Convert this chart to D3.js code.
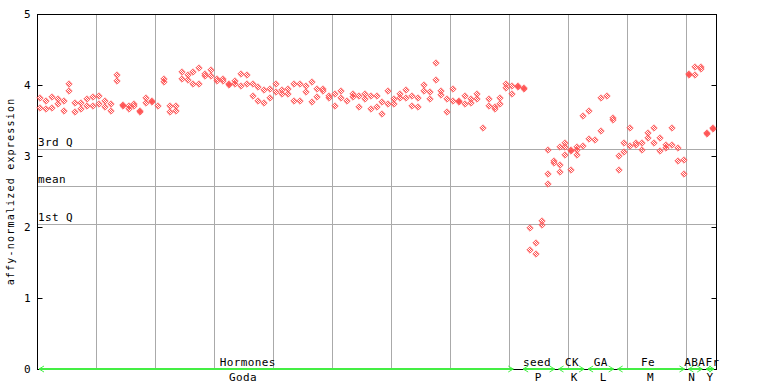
<!DOCTYPE html>
<html>
<head>
<meta charset="utf-8">
<script src="https://cdn.jsdelivr.net/npm/d3@7"></script>
<style>
  body { margin: 0; background: #fff; }
  text { font-family: "DejaVu Sans Mono", monospace; font-size: 11px; letter-spacing: 0.4px; fill: #000; }
</style>
</head>
<body>
<svg id="chart" width="768" height="384"></svg>
<script>
// one entry per sample column, replicate values
const expression = [
  [3.81, 3.67], [3.78, 3.66], [3.83, 3.67], [3.80, 3.73], [3.78, 3.64],
  [4.01, 3.92], [3.75, 3.62], [3.74, 3.66], [3.80, 3.71], [3.83, 3.71],
  [3.85, 3.73], [3.78, 3.69], [3.73, 3.64], [4.14, 4.05], [3.72, 3.70],
  [3.71, 3.66], [3.73, 3.70], [3.64, 3.62], [3.81, 3.74], [3.77, 3.76],
  [3.70], [4.09, 4.04], [3.70, 3.62], [3.71, 3.64], [4.18, 4.08],
  [4.14, 4.07], [4.19, 4.02], [4.24, 4.02], [4.15, 4.12], [4.21, 4.12],
  [4.09, 4.06], [4.08, 4.06], [4.01, 4.00], [4.05, 4.01], [4.15, 3.98],
  [4.14, 4.02], [4.01, 3.85], [3.97, 3.77], [3.93, 3.74], [3.95, 3.81],
  [4.02, 3.90], [3.93, 3.87], [3.95, 3.88], [4.01, 3.78], [4.01, 3.78],
  [3.98, 3.90], [4.04, 3.76], [3.95, 3.83], [3.94, 3.91], [3.84, 3.82],
  [3.88, 3.70], [3.91, 3.81], [3.78], [3.88, 3.83], [3.84, 3.69],
  [3.88, 3.80], [3.84, 3.66], [3.84, 3.69], [3.76, 3.59], [3.91, 3.73],
  [3.80, 3.73], [3.88, 3.81], [3.93, 3.81], [3.85, 3.71], [3.81, 3.69],
  [4.00, 3.91], [3.90, 3.80], [4.31, 4.07], [3.91, 3.86], [3.80, 3.62],
  [3.94, 3.78], [3.77, 3.76], [3.84, 3.73], [3.80, 3.74], [3.87, 3.80],
  [3.39], [3.80, 3.71], [3.69, 3.66], [3.81, 3.73], [4.01, 3.96],
  [3.98, 3.88], [3.99, 3.97], [3.96, 3.94], [1.98, 1.67], [1.78, 1.62],
  [2.09, 2.03], [3.08, 2.74, 2.60], [2.93, 2.90], [3.12, 2.88, 2.77], [3.18, 3.13, 3.01],
  [3.09, 3.07, 2.80], [3.12, 3.08, 3.01], [3.56, 3.14], [3.63, 3.24], [3.22],
  [3.81, 3.35], [3.84], [3.53, 3.51], [3.00, 2.80], [3.19, 3.05],
  [3.40, 3.14], [3.18, 3.15], [3.18, 3.09], [3.33, 3.25], [3.40, 3.19],
  [3.25, 3.07], [3.16, 3.11], [3.39, 3.16], [3.11, 2.93], [2.95, 2.74],
  [4.16, 4.14], [4.26, 4.14], [4.25, 4.22], [3.33, 3.31], [3.40, 3.38]
];

const yTicks = [0, 1, 2, 3, 4, 5];
const quartileNames = ["3rd Q", "mean", "1st Q"];
const quartileValues = [3.10, 2.58, 2.04];

// upper group row: label, first column, last column, label column
const upperNames = ["Hormones", "seed", "CK", "GA", "Fe", "ABA", "Fr"];
const upperStart = [0, 82, 88, 93, 98, 110, 113];
const upperEnd = [80, 87, 92, 97, 109, 112, 114];
const upperLabelCol = [35.2, 84.2, 90.1, 95.0, 103.0, 110.9, 113.9];

// lower row
const lowerNames = ["Goda", "P", "K", "L", "M", "N", "Y"];
const lowerLabelCol = [34.4, 84.4, 90.5, 95.4, 103.4, 110.4, 113.5];

const margin = { top: 14, right: 52, bottom: 15, left: 37 };
const width = 768, height = 384;
const svg = d3.select("#chart");

const x = d3.scaleLinear().domain([0, expression.length]).range([margin.left, width - margin.right]);
const y = d3.scaleLinear().domain([0, 5]).range([height - margin.bottom, margin.top]);
const x0 = x.range()[0], x1 = x.range()[1];

// checker pattern used inside the diamonds
const pat = svg.append("defs").append("pattern")
    .attr("id", "checker").attr("width", 2).attr("height", 2)
    .attr("patternUnits", "userSpaceOnUse");
pat.append("rect").attr("width", 1).attr("height", 1).attr("fill", "#ff5555");
pat.append("rect").attr("x", 1).attr("y", 1).attr("width", 1).attr("height", 1).attr("fill", "#ff5555");

// vertical grid every 10 samples
const gridCols = d3.range(10, expression.length, 10);
svg.append("g").selectAll("line")
    .data(gridCols)
    .join("line")
    .attr("x1", d => Math.round(x(d)) + 0.5).attr("x2", d => Math.round(x(d)) + 0.5)
    .attr("y1", y(5)).attr("y2", y(0))
    .attr("stroke", "#aaa");

// quartile lines
svg.append("g").selectAll("line")
    .data(quartileValues)
    .join("line")
    .attr("x1", x0).attr("x2", x1)
    .attr("y1", d => Math.round(y(d)) + 0.5).attr("y2", d => Math.round(y(d)) + 0.5)
    .attr("stroke", "#aaa");

svg.append("g").selectAll("text")
    .data(quartileValues)
    .join("text")
    .attr("x", x0 + 1)
    .attr("y", d => Math.round(y(d)) - 3)
    .text((d, i) => quartileNames[i]);

// frame
svg.append("rect")
    .attr("x", x0 + 0.5).attr("y", y(5) + 0.5)
    .attr("width", x1 - x0).attr("height", y(0) - y(5))
    .attr("fill", "none").attr("stroke", "#000");

// y axes, ticks pointing inward
const left = svg.append("g")
    .attr("transform", `translate(${x0 + 0.5},0)`)
    .call(d3.axisRight(y).tickValues(yTicks).tickSize(5).tickFormat(""));
left.select(".domain").remove();
svg.append("g").selectAll("text")
    .data(yTicks)
    .join("text")
    .attr("x", 31)
    .attr("y", d => y(d) + 4)
    .attr("text-anchor", "end")
    .text(d => d);

const right = svg.append("g")
    .attr("transform", `translate(${x1 + 0.5},0)`)
    .call(d3.axisLeft(y).tickValues(yTicks).tickSize(5).tickFormat(""));
right.select(".domain").remove();

svg.append("text")
    .attr("transform", `translate(14,${(y(0) + y(5)) / 2}) rotate(-90)`)
    .attr("text-anchor", "middle")
    .style("font-size", "10px")
    .style("letter-spacing", "1.2px")
    .text("affy-normalized expression");

// points
const pts = expression.flatMap((vals, i) => vals.map(v => ({ col: i, v })));
svg.append("g").selectAll("path")
    .data(pts)
    .join("path")
    .attr("transform", d => `translate(${Math.round(x(d.col + 0.5))},${Math.round(y(d.v))})`)
    .attr("d", "M0,-3.2L3.2,0L0,3.2L-3.2,0Z")
    .attr("fill", "url(#checker)")
    .attr("stroke", "#ff5555")
    .attr("stroke-width", 0.8);

// group bar along the bottom
const baseY = y(0);
const groups = svg.append("g");
upperNames.forEach((name, i) => {
  const a = x(upperStart[i]) + 2, b = x(upperEnd[i] + 1) - 2;
  groups.append("line")
      .attr("x1", a).attr("x2", b).attr("y1", baseY).attr("y2", baseY)
      .attr("stroke", "#44ee44").attr("stroke-width", 2);
  groups.append("path")
      .attr("d", `M${a + 5},${baseY - 3}L${a},${baseY}L${a + 5},${baseY + 3}`)
      .attr("fill", "none").attr("stroke", "#44ee44");
  groups.append("path")
      .attr("d", `M${b - 5},${baseY - 3}L${b},${baseY}L${b - 5},${baseY + 3}`)
      .attr("fill", "none").attr("stroke", "#44ee44");
  groups.append("text")
      .attr("x", x(upperLabelCol[i] + 0.5)).attr("y", baseY - 3)
      .attr("text-anchor", "middle")
      .text(name);
});

svg.append("g").selectAll("text")
    .data(lowerNames)
    .join("text")
    .attr("x", (d, i) => x(lowerLabelCol[i] + 0.5))
    .attr("y", baseY + 12)
    .attr("text-anchor", "middle")
    .text(d => d);
</script>
</body>
</html>
